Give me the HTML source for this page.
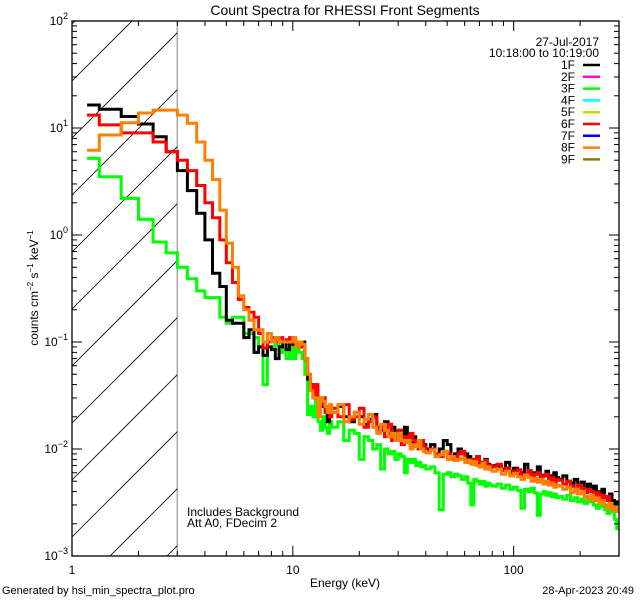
<!DOCTYPE html>
<html><head><meta charset="utf-8"><style>
html,body{margin:0;padding:0;background:#fff;overflow:hidden;width:640px;height:600px}
svg{display:block;font-family:"Liberation Sans","DejaVu Sans",sans-serif;overflow:hidden}
</style></head><body>
<svg id="chart" width="640" height="600" viewBox="0 0 640 600" xmlns="http://www.w3.org/2000/svg">
<rect width="640" height="600" fill="#fff"/>
<text x="345" y="15" font-size="14" text-anchor="middle">Count Spectra for RHESSI Front Segments</text>
<g id="hatch"></g>
<g id="series"></g>
<g id="axes"></g>
<text x="345" y="587" font-size="12" text-anchor="middle">Energy (keV)</text>
<text transform="translate(38,288) rotate(-90)" font-size="12" text-anchor="middle">counts cm<tspan font-size="8" dy="-5">−2</tspan><tspan dy="5"> s</tspan><tspan font-size="8" dy="-5">−1</tspan><tspan dy="5"> keV</tspan><tspan font-size="8" dy="-5">−1</tspan></text>
<text x="599" y="46" font-size="12" text-anchor="end">27-Jul-2017</text>
<text x="599" y="57" font-size="12" text-anchor="end">10:18:00 to 10:19:00</text>
<g id="legend"></g>
<text x="187" y="516" font-size="12">Includes Background</text>
<text x="187" y="527" font-size="12">Att A0, FDecim 2</text>
<text x="2" y="594" font-size="11">Generated by hsi_min_spectra_plot.pro</text>
<text x="634" y="594" font-size="11" text-anchor="end">28-Apr-2023 20:49</text>
</svg>
<script>
const edges = [1.17,1.33,1.67,2,2.33,2.67,3,3.33,3.67,4,4.33,4.67,5,5.33,5.67,6,6.33,6.67,7,7.33,7.67,8,8.33,8.67,9,9.33,9.67,10,10.33,10.67,11,11.33,11.67,12,12.33,12.67,13,13.33,13.67,14,14.33,14.67,
15,16,17,18,19,20,21,22,23,24,25,26,27,28,29,30,31,32,33,34,35,36,37,38,39,
40,42,44,46,48,50,52,54,56,58,60,62,64,66,68,70,72,74,76,78,
80,84,88,92,96,100,104,108,112,116,120,124,128,132,136,140,144,148,152,156,
160,167,174,181,188,195,202,209,216,223,230,237,244,251,258,265,272,279,286,293,300];
const seg1F = [16.4,15,12.8,10.9,8.3,6.0,4.0,2.6,1.6,0.9,0.44,0.33,0.16,0.15,0.15,0.11,0.13,0.08,0.09,0.075,0.09,0.085,0.07,0.09,0.1,0.085,0.1,0.095,0.1,0.09,0.1,0.07,0.045,0.036,0.04,0.03,0.028,0.025,0.03,0.022,0.018,0.024,
0.022,0.025,0.02,0.018,0.022,0.02,0.017,0.019,0.021,0.016,0.015,0.018,0.014,0.016,0.013,0.015,0.012,0.016,0.013,0.011,0.013,0.012,0.01,0.012,0.011,
0.01,0.011,0.009,0.01,0.012,0.011,0.0085,0.009,0.01,0.0095,0.009,0.0085,0.008,0.0075,0.0085,0.007,0.0075,0.008,0.0072,0.0068,
0.007,0.0068,0.0065,0.0075,0.0062,0.0066,0.0058,0.006,0.0072,0.0062,0.006,0.0058,0.0068,0.0055,0.0057,0.0062,0.0053,0.0056,0.006,0.0054,
0.0052,0.0056,0.005,0.0048,0.0052,0.0046,0.0049,0.0044,0.0047,0.0042,0.0045,0.004,0.0038,0.0042,0.0036,0.0035,0.0038,0.0033,0.003,0.0032];
const seg3F = [5.2,3.5,2.2,1.4,0.86,0.68,0.5,0.39,0.3,0.26,0.26,0.17,0.15,0.17,0.17,0.12,0.12,0.11,0.09,0.04,0.09,0.09,0.095,0.08,0.085,0.07,0.09,0.07,0.09,0.08,0.07,0.05,0.021,0.025,0.02,0.03,0.018,0.015,0.02,0.016,0.014,0.018,
0.016,0.018,0.012,0.015,0.014,0.008,0.013,0.012,0.01,0.011,0.0065,0.01,0.009,0.0095,0.008,0.009,0.0085,0.006,0.008,0.0075,0.008,0.007,0.0075,0.0068,0.007,
0.0065,0.0068,0.006,0.0027,0.0058,0.006,0.0055,0.0058,0.0056,0.0052,0.0055,0.0048,0.003,0.0052,0.005,0.0047,0.005,0.0045,0.0048,0.0046,
0.0045,0.0047,0.0043,0.0046,0.0042,0.0044,0.0041,0.0028,0.0042,0.004,0.0043,0.0039,0.0024,0.0038,0.004,0.0037,0.0039,0.0036,0.0038,0.0035,
0.0036,0.0034,0.0037,0.0033,0.0035,0.0032,0.0034,0.0031,0.0033,0.0032,0.003,0.0028,0.0031,0.0029,0.0027,0.0025,0.0027,0.0026,0.0022,0.0018];
const seg6F = [13.2,10.7,9.0,9.0,7.4,6.0,5.0,4.0,2.9,2.0,1.45,0.9,0.55,0.36,0.25,0.21,0.19,0.17,0.12,0.088,0.1,0.11,0.1,0.11,0.1,0.105,0.11,0.1,0.095,0.1,0.09,0.07,0.05,0.04,0.03,0.04,0.03,0.026,0.03,0.022,0.025,0.02,
0.024,0.02,0.026,0.019,0.02,0.024,0.016,0.018,0.02,0.015,0.016,0.013,0.017,0.012,0.014,0.015,0.011,0.013,0.012,0.014,0.012,0.011,0.01,0.012,0.0105,
0.0095,0.01,0.009,0.0085,0.0095,0.009,0.008,0.0085,0.009,0.0095,0.008,0.0075,0.008,0.0072,0.0085,0.0068,0.007,0.0078,0.0066,0.007,
0.0068,0.0072,0.0063,0.0066,0.0058,0.0062,0.0064,0.0056,0.0058,0.0063,0.0055,0.0058,0.006,0.0052,0.0056,0.0058,0.005,0.0054,0.0049,0.0052,
0.0051,0.0047,0.005,0.0045,0.0041,0.0046,0.0043,0.0039,0.0042,0.004,0.0037,0.0039,0.0034,0.0037,0.0033,0.0036,0.0031,0.0029,0.0028,0.0027];
const seg8F = [6.2,8.6,11.2,13.8,14.7,14.7,13.2,11.1,7.4,5.0,3.3,1.7,0.84,0.5,0.27,0.2,0.16,0.13,0.13,0.1,0.12,0.1,0.11,0.1,0.1,0.1,0.1,0.11,0.09,0.1,0.095,0.07,0.05,0.035,0.03,0.03,0.02,0.03,0.028,0.025,0.022,0.026,
0.022,0.026,0.018,0.02,0.022,0.017,0.019,0.021,0.016,0.014,0.017,0.015,0.013,0.014,0.012,0.014,0.012,0.0115,0.012,0.01,0.011,0.0105,0.012,0.01,0.0095,
0.0092,0.0098,0.0085,0.0088,0.0095,0.008,0.0085,0.0078,0.008,0.0082,0.0075,0.0078,0.0072,0.0076,0.007,0.0068,0.0074,0.0065,0.0068,0.0064,
0.0062,0.0065,0.0058,0.0062,0.0056,0.0059,0.0055,0.0052,0.0057,0.0054,0.005,0.0053,0.0049,0.0052,0.0047,0.005,0.0046,0.0048,0.0044,0.0046,
0.0045,0.0042,0.0044,0.0039,0.0042,0.0038,0.004,0.0036,0.0034,0.0037,0.0033,0.0035,0.0031,0.0033,0.003,0.0028,0.0031,0.0027,0.0029,0.0026];
const legendLabels = ["1F","2F","3F","4F","5F","6F","7F","8F","9F"];
const legendColors = ["#000000","#ff00ff","#00ff00","#00ffff","#d4d400","#ff0000","#0000ff","#ff8000","#808000"];
const xTickLabels = ["1","10","100"];
const xTickValues = [1,10,100];
const yTickExps = [-3,-2,-1,0,1,2];

const L=72,R=619,T=21,B=556, XMIN=1, XMAX=300, YMIN=1e-3, YMAX=100;
const NS="http://www.w3.org/2000/svg";
function xs(e){return L+(Math.log10(e)-Math.log10(XMIN))/(Math.log10(XMAX)-Math.log10(XMIN))*(R-L);}
function ys(v){return B-(Math.log10(v)-Math.log10(YMIN))/(Math.log10(YMAX)-Math.log10(YMIN))*(B-T);}
function mk(tag,attrs,parent){const el=document.createElementNS(NS,tag);for(const k in attrs)el.setAttribute(k,attrs[k]);if(parent)parent.appendChild(el);return el;}
const svg=document.getElementById('chart');
const defs=mk('defs',{},svg);
const cp=mk('clipPath',{id:'plotclip'},defs);
mk('rect',{x:L,y:T,width:R-L,height:B-T},cp);
const hcp=mk('clipPath',{id:'hatchclip'},defs);
mk('rect',{x:L,y:T,width:xs(3)-L,height:B-T},hcp);

const hg=document.getElementById('hatch');
hg.setAttribute('clip-path','url(#hatchclip)');
for(let k=-3;k<14;k++){
  const y0=138+k*57;
  const ln=mk('line',{x1:L,y1:y0,x2:L+200,y2:y0-200,stroke:'#000','stroke-width':0.8},hg);
  
  
}
const vl=mk('line',{x1:xs(3),y1:T,x2:xs(3),y2:B,stroke:'#000','stroke-width':1},hg);



const sg=document.getElementById('series');
sg.setAttribute('clip-path','url(#plotclip)');
function stepPath(vals){
  let d='M'+xs(edges[0]).toFixed(1)+' '+ys(vals[0]).toFixed(1);
  for(let i=0;i<vals.length;i++){
    d+=' H'+xs(edges[i+1]).toFixed(1);
    if(i+1<vals.length) d+=' V'+ys(vals[i+1]).toFixed(1);
  }
  return d;
}
const seriesList=[[seg3F,'#00ff00','series-3f'],[seg1F,'#000000','series-1f'],[seg6F,'#ff0000','series-6f'],[seg8F,'#ff8000','series-8f']];
seriesList.forEach(s=>{
  const p=mk('path',{d:stepPath(s[0]),fill:'none',stroke:s[1],'stroke-width':3,'stroke-linejoin':'miter'},sg);
  
  
});

const ag=document.getElementById('axes');
const frame=mk('rect',{x:L,y:T,width:R-L,height:B-T,fill:'none',stroke:'#000','stroke-width':1.3},ag);


for(let dec=1;dec<=100;dec*=10){
  for(let m=1;m<10;m++){
    const e=dec*m; if(e>XMAX) break;
    const x=xs(e); const len=(m===1)?10:5;
    const t1=mk('line',{x1:x,y1:B,x2:x,y2:B-len,stroke:'#000','stroke-width':1},ag);
    
    
    const t2=mk('line',{x1:x,y1:T,x2:x,y2:T+len,stroke:'#000','stroke-width':1},ag);
    
    
  }
}
xTickLabels.forEach((lab,i)=>{
  const t=mk('text',{x:xs(xTickValues[i]),y:574,'font-size':12,'text-anchor':'middle'},ag);
  t.textContent=lab;
  
  
});
yTickExps.forEach(ex=>{
  for(let m=1;m<10;m++){
    const v=m*Math.pow(10,ex); if(v>YMAX*1.0001) break;
    const y=ys(v); const len=(m===1)?10:5;
    const t1=mk('line',{x1:L,y1:y,x2:L+len,y2:y,stroke:'#000','stroke-width':1},ag);
    
    
    const t2=mk('line',{x1:R,y1:y,x2:R-len,y2:y,stroke:'#000','stroke-width':1},ag);
    
    
  }
  const t=mk('text',{x:L-4,y:ys(Math.pow(10,ex))+4,'font-size':12,'text-anchor':'end'},ag);
  
  
  const a=mk('tspan',{},t); a.textContent='10';
  const b=mk('tspan',{'font-size':9,dy:-6},t); b.textContent=(ex<0?'−':'')+Math.abs(ex);
});

const lg=document.getElementById('legend');
legendLabels.forEach((lab,i)=>{
  const y=65+i*11.8;
  const t=mk('text',{x:575,y:y+4,'font-size':12,'text-anchor':'end'},lg);
  t.textContent=lab;
  
  
  const l=mk('line',{x1:583,y1:y,x2:600,y2:y,stroke:legendColors[i],'stroke-width':2.5},lg);
  
  
});
</script>
</body></html>
